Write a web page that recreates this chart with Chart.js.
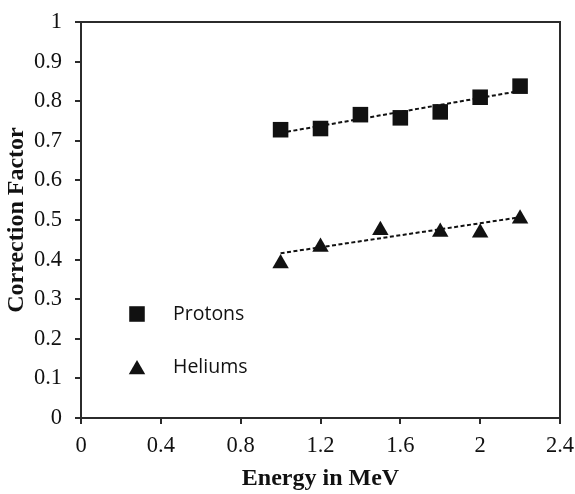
<!DOCTYPE html>
<html>
<head>
<meta charset="utf-8">
<script src="https://cdn.jsdelivr.net/npm/chart.js@4/dist/chart.umd.min.js"></script>
<style>
  html, body { margin: 0; padding: 0; background: #fff; }
</style>
</head>
<body>
<canvas id="chart" width="575" height="494"></canvas>
<script>
// values
const protonEnergy = [1.0, 1.2, 1.4, 1.6, 1.8, 2.0, 2.2];
const protonFactor = [0.728, 0.731, 0.766, 0.758, 0.773, 0.810, 0.838];
const heliumEnergy = [1.0, 1.2, 1.5, 1.8, 2.0, 2.2];
const heliumFactor = [0.390, 0.432, 0.474, 0.470, 0.468, 0.503];

// dashed trend lines (end points)
const fitEnergy = [1.0, 2.2];
const protonFit = [0.720, 0.826];
const heliumFit = [0.416, 0.507];

const xTicks = [0, 0.4, 0.8, 1.2, 1.6, 2, 2.4];
const yTicks = [0, 0.1, 0.2, 0.3, 0.4, 0.5, 0.6, 0.7, 0.8, 0.9, 1];

const ink = '#111';
const axisColor = '#2b2b2b';

function points(xs, ys) {
  return xs.map((x, i) => ({x: x, y: ys[i]}));
}

// draws the top and right sides of the frame
const frameBox = {
  id: 'frameBox',
  beforeDatasetsDraw(chart) {
    const {ctx, chartArea: a} = chart;
    ctx.save();
    ctx.strokeStyle = axisColor;
    ctx.lineWidth = 2;
    ctx.beginPath();
    ctx.moveTo(a.left, a.top);
    ctx.lineTo(a.right, a.top);
    ctx.lineTo(a.right, a.bottom);
    ctx.stroke();
    ctx.restore();
  }
};

// legend sitting inside the plot, lower left
const legendRows = [314, 367];
const innerLegend = {
  id: 'innerLegend',
  afterDatasetsDraw(chart) {
    const ctx = chart.ctx;
    const a = chart.chartArea;
    const items = chart.data.datasets.filter(d => d.showInLegend);
    ctx.save();
    items.forEach((d, i) => {
      const y = legendRows[i];
      const my = d.pointStyle === 'triangle' ? y + d.pointRadius / 4 : y;
      ctx.fillStyle = ink;
      ctx.strokeStyle = ink;
      Chart.helpers.drawPoint(ctx, {pointStyle: d.pointStyle, radius: d.pointRadius, borderWidth: 0, rotation: 0}, a.left + 56, my);
      ctx.font = '19.5px "Open Sans"';
      ctx.textBaseline = 'middle';
      ctx.textAlign = 'left';
      ctx.fillText(d.label, a.left + 92, y);
    });
    ctx.restore();
  }
};

const chart = new Chart(document.getElementById('chart'), {
  type: 'scatter',
  data: {
    datasets: [
      {
        label: 'Protons',
        data: points(protonEnergy, protonFactor),
        pointStyle: 'rect',
        pointRadius: 11,
        backgroundColor: ink,
        borderColor: ink,
        borderWidth: 0,
        showInLegend: true,
        order: 1
      },
      {
        label: 'Heliums',
        data: points(heliumEnergy, heliumFactor),
        pointStyle: 'triangle',
        pointRadius: 9.5,
        backgroundColor: ink,
        borderColor: ink,
        borderWidth: 0,
        showInLegend: true,
        order: 1
      },
      {
        type: 'line',
        label: 'Protons fit',
        data: points(fitEnergy, protonFit),
        borderColor: ink,
        borderWidth: 2,
        borderDash: [4, 2.5],
        pointRadius: 0,
        fill: false,
        order: 2
      },
      {
        type: 'line',
        label: 'Heliums fit',
        data: points(fitEnergy, heliumFit),
        borderColor: ink,
        borderWidth: 2,
        borderDash: [4, 2.5],
        pointRadius: 0,
        fill: false,
        order: 2
      }
    ]
  },
  options: {
    responsive: false,
    animation: false,
    layout: {
      padding: {left: 0, top: 22, right: 15, bottom: 0}
    },
    plugins: {
      legend: { display: false },
      tooltip: { enabled: false }
    },
    scales: {
      x: {
        type: 'linear',
        min: 0,
        max: 2.4,
        afterFit: (s) => { s.height = 76; s.paddingLeft = 0; s.paddingRight = 0; },
        afterBuildTicks: (s) => { s.ticks = xTicks.map(v => ({value: v})); },
        border: { color: axisColor, width: 2 },
        grid: {
          drawOnChartArea: false,
          drawTicks: true,
          tickLength: 6,
          color: axisColor,
          lineWidth: 2
        },
        ticks: {
          padding: 9,
          color: ink,
          font: { family: '"Liberation Serif"', size: 22.5 },
          maxRotation: 0,
          callback: (v) => String(Number(v.toFixed(1)))
        },
        title: {
          display: true,
          text: 'Energy in MeV',
          color: ink,
          padding: { top: 0, bottom: 1 },
          font: { family: '"Liberation Serif"', size: 24, weight: 'bold' }
        }
      },
      y: {
        min: 0,
        max: 1,
        afterFit: (s) => { s.width = 81; s.paddingTop = 0; s.paddingBottom = 0; },
        afterBuildTicks: (s) => { s.ticks = yTicks.map(v => ({value: v})); },
        border: { color: axisColor, width: 2 },
        grid: {
          drawOnChartArea: false,
          drawTicks: true,
          tickLength: 6,
          color: axisColor,
          lineWidth: 2
        },
        ticks: {
          padding: 13,
          color: ink,
          font: { family: '"Liberation Serif"', size: 22.5 },
          callback: (v) => String(Number(v.toFixed(1)))
        },
        title: {
          display: true,
          text: 'Correction Factor',
          color: ink,
          padding: { top: 2, bottom: 0 },
          font: { family: '"Liberation Serif"', size: 24, weight: 'bold' }
        }
      }
    }
  },
  plugins: [frameBox, innerLegend]
});
</script>
</body>
</html>
